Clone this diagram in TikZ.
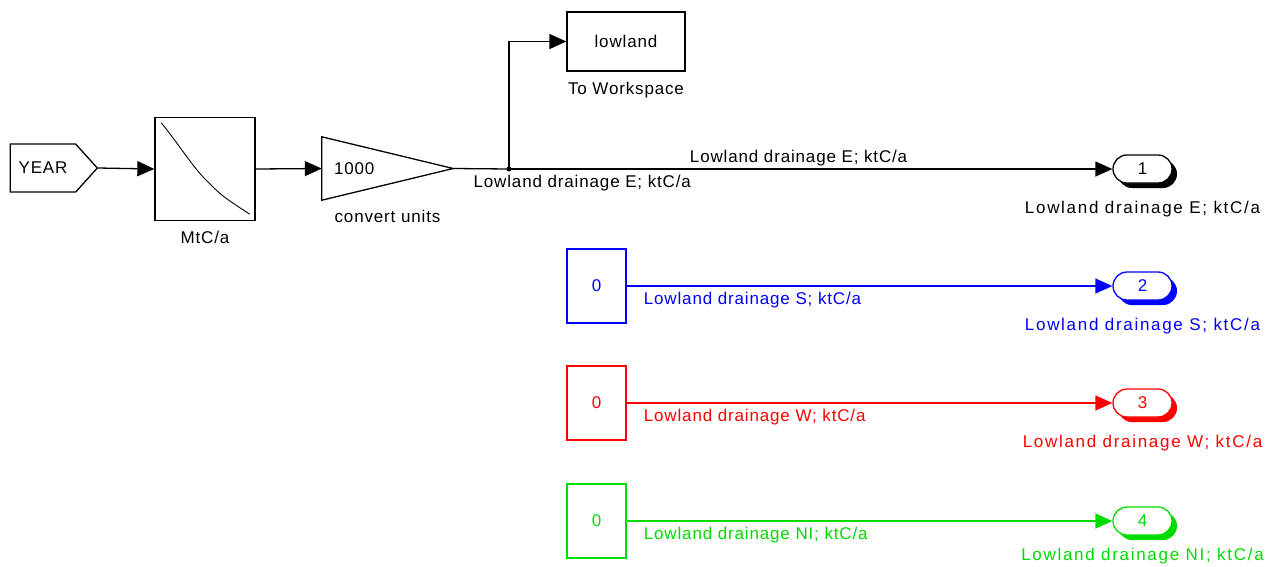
\documentclass[tikz,border=0pt]{standalone}
\usepackage{fontspec}
\setmainfont{Liberation Sans}[LetterSpace=5]
\newfontfamily\portfont{Liberation Sans}[LetterSpace=10]
\usetikzlibrary{arrows.meta,positioning,calc,shapes.misc,shapes.symbols,shadows}
\definecolor{SigBlue}{RGB}{0,0,255}
\definecolor{SigRed}{RGB}{255,0,0}
\definecolor{SigGreen}{RGB}{0,220,0}
\newcommand\simfont{\fontsize{17}{19}\selectfont}
\tikzset{
 every node/.style={font=\simfont},
 box/.style={draw,line width=1.3pt,fill=white,inner sep=0pt},
 tag/.style={box,signal,signal to=east,signal pointer angle=96,minimum width=87,minimum height=48},
 konst/.style={box,draw=#1,text=#1,minimum width=59,minimum height=74},
 port/.style={rounded rectangle,draw=#1,text=#1,fill=white,line width=1.3pt,minimum width=59,minimum height=28,inner sep=0pt,
   drop shadow={shadow xshift=5pt,shadow yshift=-5pt,fill=#1,opacity=1}},
 lbl/.style={font=\simfont,inner sep=2pt},
 plbl/.style={font=\simfont\portfont,inner sep=2pt,label distance=15pt},
 arr/.style={-{Triangle[length=17pt,width=15pt]},line width=1.3pt}
}
\begin{document}
\begin{tikzpicture}[x=1pt,y=-1pt]
\useasboundingbox (0,0) rectangle (1276,566);
% source, lookup table and gain
\node[tag] (year) at (43,168) {YEAR};
\node[box,minimum width=100,minimum height=103,label={[lbl,label distance=8pt]below:MtC/a}] (lut) at (205,169) {};
\draw[line width=0.9pt] ([shift={(7,6)}]lut.north west) .. controls (180,146) and (192,166) .. (206,180)
  .. controls (222,196) .. ([shift={(-6,-7)}]lut.south east);
\node[minimum width=131,minimum height=63,inner sep=0pt,label={[lbl,label distance=8pt]below:convert units}] (gain) at (387.5,168.5) {};
\draw[line width=1.3pt] (gain.north west) -- (gain.east) -- (gain.south west) -- cycle;
\node[right=12pt of gain.west,inner sep=0pt] (gainval) {1000};
\draw[arr] (year.east) -- (lut.west);
\draw[arr] (lut.east) -- (gain.west);
% workspace branch
\coordinate (jn) at (509,169);
\node[box,minimum width=118,minimum height=59,label={[lbl,label distance=8pt]below:To Workspace}] (ws) at (626,41.5) {lowland};
\draw[line width=1.3pt] (gain.east) -- node[lbl,below,pos=1,anchor=north west,xshift=-38pt,yshift=-4pt] {Lowland drainage E; ktC/a} (jn);
\fill (jn) circle (2.5);
\draw[arr] (jn) |- (ws.west);
% outports
\node[port=black,label={[plbl]below:Lowland drainage E; ktC/a}] (out1) at (1142.5,169) {1};
\node[port=SigBlue,label={[plbl,text=SigBlue]below:Lowland drainage S; ktC/a}] (out2) at (1142.5,286) {2};
\node[port=SigRed,label={[plbl,text=SigRed]below:Lowland drainage W; ktC/a}] (out3) at (1142.5,403) {3};
\node[port=SigGreen,label={[plbl,text=SigGreen,label distance=10pt]below:Lowland drainage NI; ktC/a}] (out4) at (1142.5,521) {4};
\draw[arr] (jn) -- node[lbl,above,pos=0.48] {Lowland drainage E; ktC/a} (out1.west);
% constants
\node[konst=SigBlue] (cS) at (596.5,286) {0};
\node[konst=SigRed] (cW) at (596.5,403) {0};
\node[konst=SigGreen] (cN) at (596.5,521) {0};
\draw[arr,SigBlue] (cS) -- node[lbl,below,pos=0.03,anchor=north west,yshift=-4pt,text=SigBlue] {Lowland drainage S; ktC/a} (out2.west);
\draw[arr,SigRed] (cW) -- node[lbl,below,pos=0.03,anchor=north west,yshift=-4pt,text=SigRed] {Lowland drainage W; ktC/a} (out3.west);
\draw[arr,SigGreen] (cN) -- node[lbl,below,pos=0.03,anchor=north west,yshift=-4pt,text=SigGreen] {Lowland drainage NI; ktC/a} (out4.west);
\end{tikzpicture}
\end{document}
